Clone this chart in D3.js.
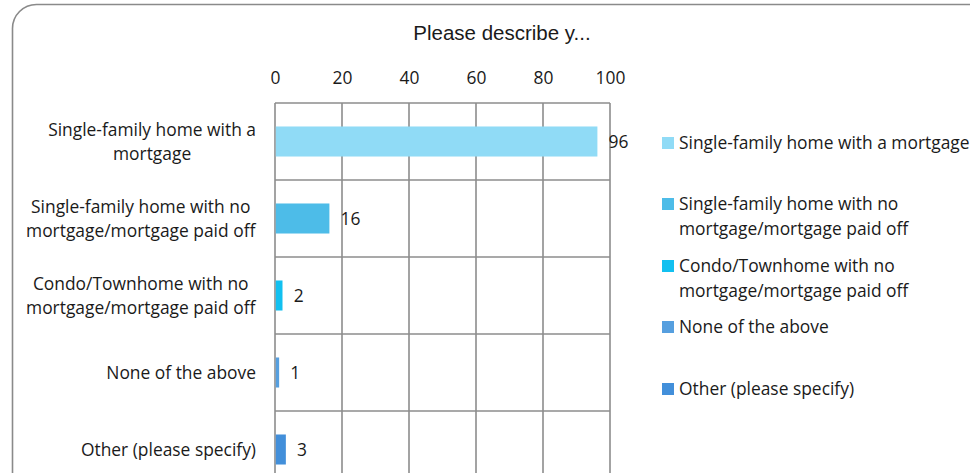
<!DOCTYPE html>
<meta charset="utf-8">
<script src="https://d3js.org/d3.v7.min.js"></script>
<style>
  body { margin: 0; background: #fff; }
  text { font-family: "Open Sans", sans-serif; fill: #1a1a1a; }
</style>
<div id="my_dataviz"></div>
<script>

// data
var categories = [
  "Single-family home with a mortgage",
  "Single-family home with no mortgage/mortgage paid off",
  "Condo/Townhome with no mortgage/mortgage paid off",
  "None of the above",
  "Other (please specify)"
];
var categoryLines = [
  ["Single-family home with a", "mortgage"],
  ["Single-family home with no", "mortgage/mortgage paid off"],
  ["Condo/Townhome with no", "mortgage/mortgage paid off"],
  ["None of the above"],
  ["Other (please specify)"]
];
var legendLines = [
  ["Single-family home with a mortgage"],
  ["Single-family home with no", "mortgage/mortgage paid off"],
  ["Condo/Townhome with no", "mortgage/mortgage paid off"],
  ["None of the above"],
  ["Other (please specify)"]
];
var values = [96, 16, 2, 1, 3];
var colors = ["#90dbf6", "#4dbce8", "#12c0f0", "#569fdf", "#428fda"];
var xTicks = [0, 20, 40, 60, 80, 100];
var title = "Please describe y...";

var W = 970, H = 473;
var margin = {top: 103, left: 275, right: 360, bottom: 0};
var width = 610 - margin.left;
var height = 77 * 5;
var fs = "17.4px";

var svg = d3.select("#my_dataviz")
  .append("svg")
    .attr("width", W)
    .attr("height", H);

// rounded frame
svg.append("rect")
  .attr("x", 12.5).attr("y", 4.5)
  .attr("width", 1000).attr("height", 600)
  .attr("rx", 24)
  .attr("fill", "none")
  .attr("stroke", "#8a8a8a")
  .attr("stroke-width", 1.6);

svg.append("text")
  .attr("x", 502).attr("y", 40)
  .attr("text-anchor", "middle")
  .style("font-family", "'Liberation Sans', Arial, sans-serif")
  .style("font-size", "20.5px")
  .text(title);

var g = svg.append("g")
  .attr("transform", "translate(" + margin.left + "," + margin.top + ")");

var x = d3.scaleLinear().domain([0, 100]).range([0, width]);
var y = d3.scaleBand().domain(categories).range([0, height])
  .paddingInner(0.61).paddingOuter(0.305);

// top axis labels
var xAxis = g.append("g")
  .call(d3.axisTop(x).tickValues(xTicks).tickSize(0).tickPadding(19));
xAxis.select(".domain").remove();
xAxis.selectAll("text")
  .style("font-family", "'Open Sans', sans-serif")
  .style("font-size", fs)
  .attr("fill", "#1a1a1a");

// grid
g.selectAll(".vgrid").data(xTicks).enter().append("line")
  .attr("x1", function(d) { return x(d); })
  .attr("x2", function(d) { return x(d); })
  .attr("y1", 0).attr("y2", height)
  .attr("stroke", "#8c8c8c").attr("stroke-width", 1.6);
g.selectAll(".hgrid").data(d3.range(categories.length + 1)).enter().append("line")
  .attr("x1", 0).attr("x2", width)
  .attr("y1", function(i) { return i * y.step(); })
  .attr("y2", function(i) { return i * y.step(); })
  .attr("stroke", "#8c8c8c").attr("stroke-width", 1.6);

// bars
g.selectAll(".bar").data(values).enter().append("rect")
  .attr("x", x(0) + 0.8)
  .attr("y", function(d, i) { return y(categories[i]); })
  .attr("width", function(d) { return x(d) - x(0); })
  .attr("height", y.bandwidth())
  .attr("fill", function(d, i) { return colors[i]; });

// value labels
g.selectAll(".val").data(values).enter().append("text")
  .attr("x", function(d) { return x(d) + 12; })
  .attr("y", function(d, i) { return y(categories[i]) + y.bandwidth() / 2; })
  .attr("dy", "0.35em")
  .style("font-size", fs)
  .text(function(d) { return d; });

// category labels (centred block, right edge at 256)
categoryLines.forEach(function(lines, i) {
  var cy = margin.top + y(categories[i]) + y.bandwidth() / 2;
  var t = svg.append("text")
    .attr("text-anchor", "middle")
    .style("font-size", fs);
  lines.forEach(function(l, j) {
    t.append("tspan").attr("x", 0)
      .attr("y", cy + (j - (lines.length - 1) / 2) * 24)
      .attr("dy", "0.35em")
      .text(l);
  });
  var w = t.node().getBBox().width;
  t.selectAll("tspan").attr("x", 256 - w / 2);
});

// legend
var legendY = [143, 216, 278, 327, 389];
legendLines.forEach(function(lines, i) {
  var cy = legendY[i];
  var top = cy - (lines.length - 1) * 12;
  svg.append("rect")
    .attr("x", 662).attr("y", top - 6)
    .attr("width", 12).attr("height", 12)
    .attr("fill", colors[i]);
  var t = svg.append("text").style("font-size", fs);
  lines.forEach(function(l, j) {
    t.append("tspan").attr("x", 679)
      .attr("y", top + j * 25)
      .attr("dy", "0.35em")
      .text(l);
  });
});

</script>
